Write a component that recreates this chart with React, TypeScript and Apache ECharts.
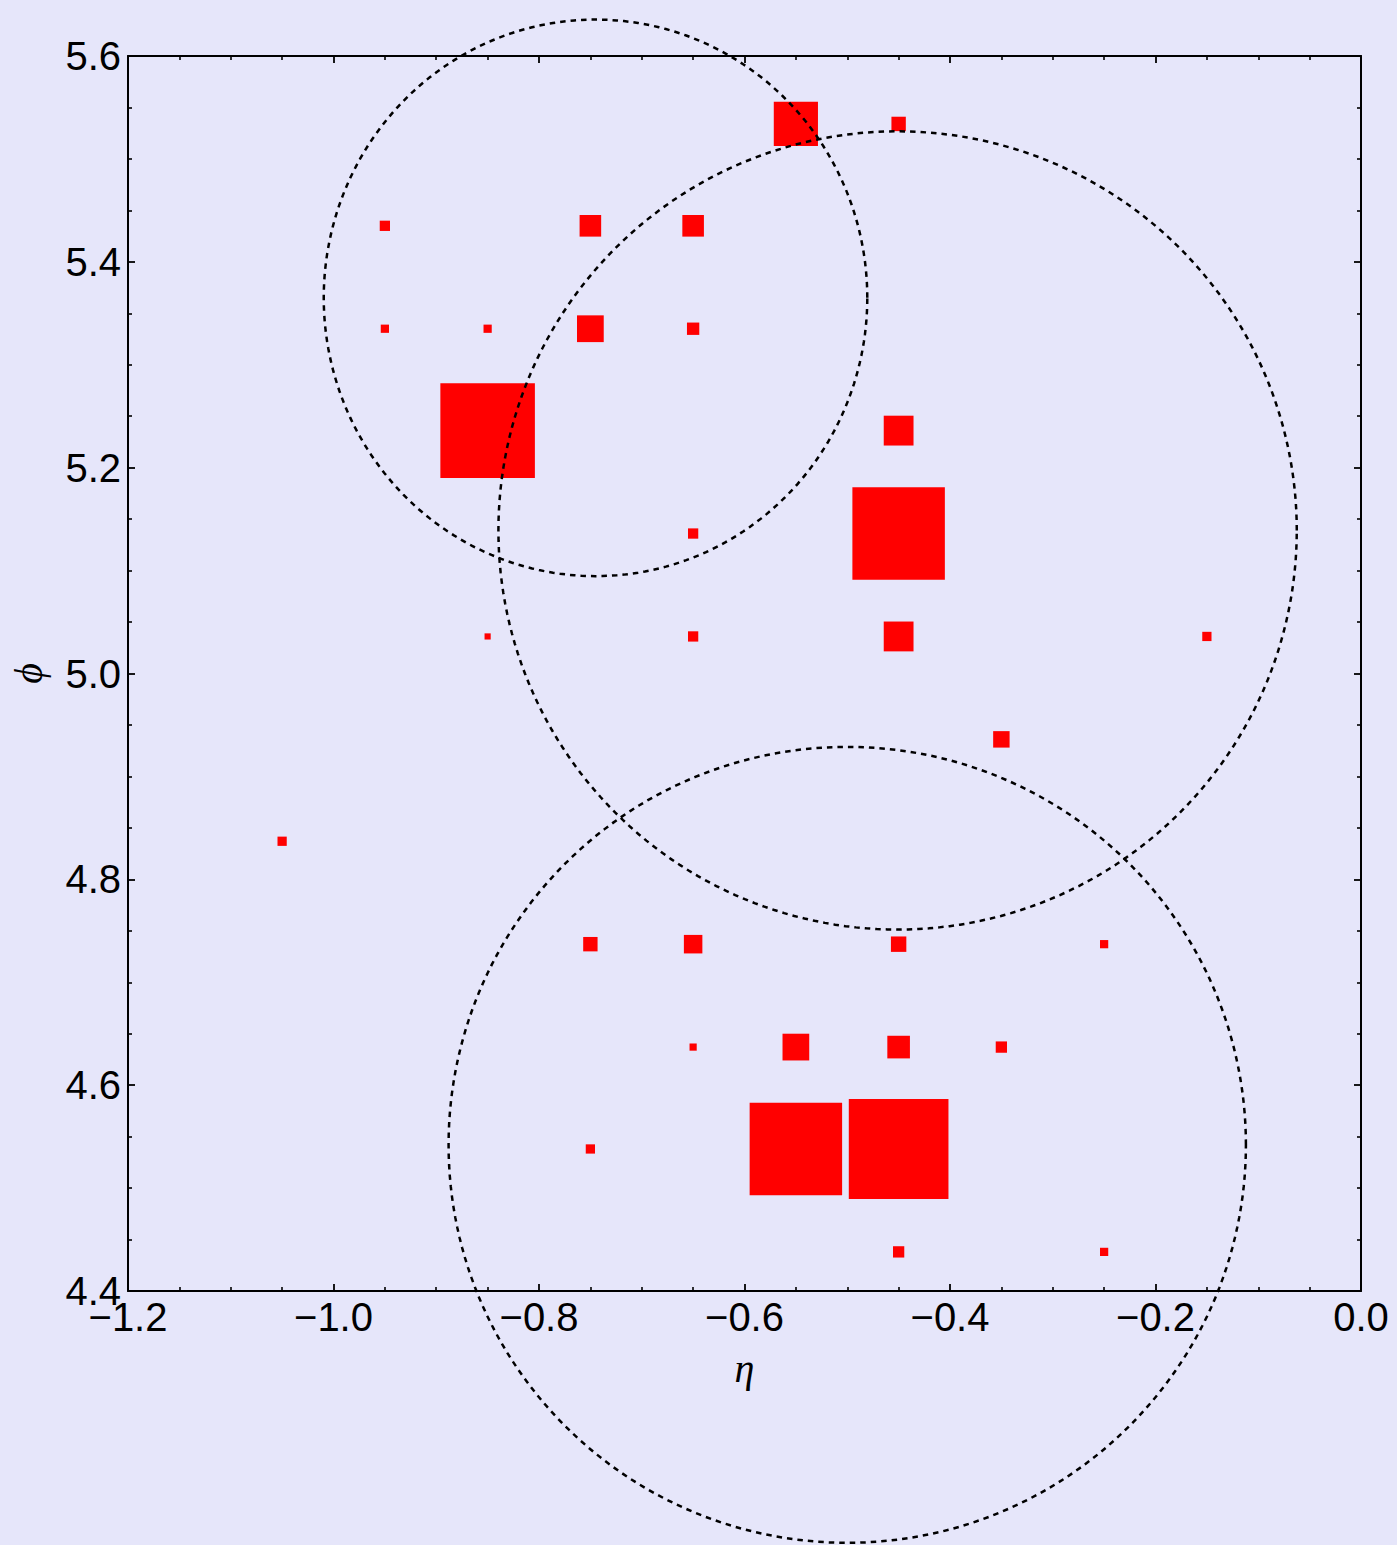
import React, { useEffect, useRef } from "react";
import * as echarts from "echarts";

// Calorimeter towers (eta, phi, weight); square side in eta units = weight / 1000
const towerEta = [
  -0.55, -0.45,
  -0.95, -0.75, -0.65,
  -0.95, -0.85, -0.75, -0.65,
  -0.85, -0.45,
  -0.65, -0.45,
  -0.85, -0.65, -0.45, -0.15,
  -0.35,
  -1.05,
  -0.75, -0.65, -0.45, -0.25,
  -0.65, -0.55, -0.45, -0.35,
  -0.75, -0.55, -0.45,
  -0.45, -0.25,
];
const towerPhi = [
  5.534, 5.534,
  5.435, 5.435, 5.435,
  5.335, 5.335, 5.335, 5.335,
  5.236, 5.236,
  5.136, 5.136,
  5.036, 5.036, 5.036, 5.036,
  4.936,
  4.837,
  4.737, 4.737, 4.737, 4.737,
  4.637, 4.637, 4.637, 4.637,
  4.538, 4.538, 4.538,
  4.438, 4.438,
];
const towerWeight = [
  43, 14,
  10, 21, 21,
  8, 8, 26, 12,
  92, 29,
  10, 90,
  6, 10, 29, 9,
  16,
  9,
  14, 18, 15, 8,
  7, 26, 22, 11,
  9, 90, 97,
  11, 8,
];

// Jets: centre (eta, phi) and radii in eta / phi
const jetEta = [-0.745, -0.451, -0.5];
const jetPhi = [5.365, 5.139, 4.542];
const jetREta = [0.2645, 0.3885, 0.388];
const jetRPhi = [0.2704, 0.3878, 0.3867];

// Axis ticks
const xMin = -1.2, xMax = 0.0, xStep = 0.2;
const yMin = 4.4, yMax = 5.6, yStep = 0.2;

const fmt = (v: number) => v.toFixed(1).replace("-", "\u2212");

export default function App() {
  const ref = useRef<HTMLDivElement>(null);

  useEffect(() => {
    if (!ref.current) return;
    const chart = echarts.init(ref.current, null, { renderer: "svg" });

    const towers = towerEta.map((e, i) => [e, towerPhi[i], towerWeight[i]]);
    const jets = jetEta.map((e, i) => [e, jetPhi[i], jetREta[i], jetRPhi[i]]);

    const axisLine = { show: true, onZero: false, lineStyle: { color: "#000", width: 2 } };
    const tickCommon = { show: true, inside: true, length: 7, lineStyle: { color: "#000", width: 1.8 } };
    const minorCommon = { show: true, splitNumber: 4, length: 4, lineStyle: { color: "#000", width: 1.6 } };
    const labelFont = { fontFamily: "Liberation Sans, Arial, sans-serif", fontSize: 40, color: "#000" };

    chart.setOption({
      animation: false,
      backgroundColor: "#E6E6FA",
      grid: { left: 128, top: 56, width: 1233, height: 1235, containLabel: false },
      xAxis: [
        {
          type: "value",
          min: xMin,
          max: xMax,
          interval: xStep,
          position: "bottom",
          axisLine,
          axisTick: tickCommon,
          minorTick: minorCommon,
          splitLine: { show: false },
          axisLabel: { ...labelFont, margin: 6, formatter: fmt, showMinLabel: true, showMaxLabel: true },
          name: "\u03B7",
          nameLocation: "middle",
          nameGap: 57,
          nameTextStyle: {
            fontFamily: "Liberation Serif, DejaVu Serif, serif",
            fontStyle: "italic",
            fontSize: 40,
            color: "#000",
          },
        },
        {
          type: "value",
          min: xMin,
          max: xMax,
          interval: xStep,
          position: "top",
          axisLine,
          axisTick: tickCommon,
          minorTick: minorCommon,
          splitLine: { show: false },
          axisLabel: { show: false },
        },
      ],
      yAxis: [
        {
          type: "value",
          min: yMin,
          max: yMax,
          interval: yStep,
          position: "left",
          axisLine,
          axisTick: tickCommon,
          minorTick: minorCommon,
          splitLine: { show: false },
          axisLabel: { ...labelFont, margin: 7, formatter: fmt, showMinLabel: true, showMaxLabel: true },
          name: "\u03D5",
          nameLocation: "middle",
          nameRotate: 90,
          nameGap: 80,
          nameTextStyle: {
            fontFamily: "Liberation Serif, DejaVu Serif, serif",
            fontStyle: "italic",
            fontSize: 40,
            color: "#000",
          },
        },
        {
          type: "value",
          min: yMin,
          max: yMax,
          interval: yStep,
          position: "right",
          axisLine,
          axisTick: tickCommon,
          minorTick: minorCommon,
          splitLine: { show: false },
          axisLabel: { show: false },
        },
      ],
      series: [
        {
          type: "custom",
          name: "towers",
          xAxisIndex: 0,
          yAxisIndex: 0,
          clip: false,
          z: 2,
          data: towers,
          encode: { x: 0, y: 1 },
          renderItem: (params: any, api: any) => {
            const c = api.coord([api.value(0), api.value(1)]);
            const side = api.value(2) / 1000;
            const s = api.size([side, side]);
            return {
              type: "rect",
              shape: { x: c[0] - s[0] / 2, y: c[1] - s[1] / 2, width: s[0], height: s[1] },
              style: { fill: "#FF0000", stroke: "none" },
            };
          },
        },
        {
          type: "custom",
          name: "jets",
          xAxisIndex: 0,
          yAxisIndex: 0,
          clip: false,
          z: 3,
          data: jets,
          encode: { x: 0, y: 1 },
          renderItem: (params: any, api: any) => {
            const cx = api.value(0);
            const cy = api.value(1);
            const rx = api.value(2);
            const ry = api.value(3);
            const pts: number[][] = [];
            const n = 240;
            for (let i = 0; i < n; i++) {
              const t = (i / n) * Math.PI * 2;
              pts.push(api.coord([cx + rx * Math.cos(t), cy + ry * Math.sin(t)]));
            }
            return {
              type: "polygon",
              shape: { points: pts },
              style: { fill: "none", stroke: "#000", lineWidth: 2.5, lineDash: [5.5, 5] },
            };
          },
        },
      ],
    });

    return () => chart.dispose();
  }, []);

  return (
    <div
      ref={ref}
      style={{ position: "absolute", left: 0, top: 0, width: 1397, height: 1545, background: "#E6E6FA" }}
    />
  );
}
